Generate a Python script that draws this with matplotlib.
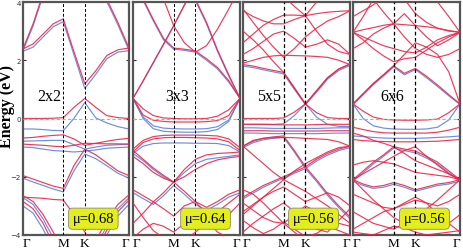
import matplotlib
matplotlib.use("Agg")
import matplotlib.pyplot as plt

# ---------------- data ----------------
# k-path sample points: G, 1/4GM, 1/2GM, 3/4GM, M, 1/2MK, K, 1/4KG, 1/2KG, 3/4KG, G
kpath = [0.0, 0.095, 0.19, 0.285, 0.38, 0.48, 0.583, 0.687, 0.79, 0.895, 1.0]
hs_pos = [0.0, 0.38, 0.583, 1.0]
hs_labels = ['Γ', 'M', 'K', 'Γ']
supercells = ['2x2', '3x3', '5x5', '6x6']
mu_values = ['0.68', '0.64', '0.56', '0.56']
energy_ticks = [-4, -2, 0, 2, 4]

p1_red = [
    [2.39, 2.56, 2.9, 3.25, 3.42, 2.3, 1.19, 1.64, 2.16, 2.36, 2.42],
    [2.4, 3.25, 4.3, 5.5, 6, 6, 6, 5.5, 4.1, 3.3, 2.42],
    [0.0, 0.0, 0.0, 0.01, 0.03, 0.38, 0.69, 0.38, 0.1, 0.03, 0.0],
    [-0.67, -0.65, -0.61, -0.58, -0.56, -0.7, -0.92, -0.85, -0.78, -0.72, -0.68],
    [-0.88, -0.9, -0.92, -0.95, -0.97, -0.92, -0.85, -0.86, -0.87, -0.87, -0.88],
    [-1.96, -2.08, -2.2, -2.32, -2.4, -1.62, -1.05, -1.25, -1.52, -1.8, -1.96],
    [-2.7, -2.72, -2.74, -2.78, -2.8, -3.3, -3.9, -4.5, -5, -5, -5],
    [-2.65, -2.85, -3.3, -3.9, -4.5, -4.5, -4.5, -4.2, -3.5, -2.95, -2.62],
    [-2.85, -3.1, -3.6, -4.3, -4.7, -4.7, -4.7, -4.5, -3.85, -3.2, -2.8],
]
p1_blue = [
    [2.31, 2.45, 2.8, 3.15, 3.32, 2.2, 1.03, 1.52, 2.05, 2.28, 2.33],
    [2.33, 3.18, 4.22, 5.5, 6, 6, 6, 5.5, 4.02, 3.22, 2.34],
    [-0.36, -0.36, -0.38, -0.41, -0.42, 0.0, 0.55, 0.02, -0.15, -0.28, -0.36],
    [-0.78, -0.77, -0.76, -0.75, -0.75, -0.9, -1.05, -0.98, -0.92, -0.9, -0.88],
    [-0.98, -1.0, -1.05, -1.1, -1.12, -1.15, -1.12, -1.08, -1.02, -1.0, -0.98],
    [-2.05, -2.18, -2.3, -2.42, -2.52, -1.8, -1.22, -1.38, -1.62, -1.88, -2.05],
    [-2.72, -2.95, -3.45, -4.1, -4.6, -4.6, -4.6, -4.4, -3.7, -3.1, -2.72],
    [-3.0, -3.25, -3.8, -4.5, -4.8, -4.8, -4.8, -4.7, -4.0, -3.35, -2.95],
]

p2_red = [
    [0.69, 1.3, 1.93, 2.56, 3.19, 3.9, 4.6, 5.5, 6, 6, 6],
    [6, 6, 5.3, 4.1, 3.19, 2.6, 2.28, 2.5, 3.07, 3.76, 4.5],
    [4.6, 4.1, 3.4, 2.75, 2.42, 2.38, 2.32, 2.05, 1.75, 1.3, 0.69],
    [6, 6, 6, 6, 6, 5.0, 4.1, 3.3, 2.35, 1.5, 0.69],
    [0.69, 0.33, 0.1, 0.02, 0.0, -0.01, -0.01, 0.0, 0.08, 0.3, 0.69],
    [0.69, 0.12, -0.06, -0.1, -0.12, -0.12, -0.12, -0.11, -0.07, 0.1, 0.69],
    [-1.05, -0.75, -0.62, -0.58, -0.57, -0.57, -0.57, -0.58, -0.6, -0.7, -1.0],
    [-1.15, -0.82, -0.7, -0.66, -0.65, -0.65, -0.66, -0.67, -0.7, -0.8, -1.1],
    [-1.1, -1.4, -1.7, -1.95, -2.18, -1.75, -1.4, -1.25, -1.2, -1.18, -1.15],
    [-1.3, -1.55, -1.85, -2.05, -2.18, -2.0, -1.75, -1.55, -1.42, -1.35, -1.3],
    [-2.45, -2.65, -2.86, -2.55, -2.18, -2.5, -2.85, -3.05, -2.85, -2.6, -2.45],
    [-3.6, -3.25, -2.86, -3.1, -3.35, -3.0, -2.85, -3.3, -3.7, -3.3, -2.9],
    [-2.9, -3.4, -3.85, -4.1, -4.4, -4.2, -3.9, -3.6, -3.2, -2.9, -2.6],
    [-4.1, -3.8, -3.6, -3.7, -3.9, -3.6, -3.3, -3.5, -3.9, -4.1, -4.0],
]
p2_blue = [
    [0.69, 1.28, 1.9, 2.53, 3.17, 3.88, 4.6, 5.5, 6, 6, 6],
    [4.6, 4.05, 3.35, 2.7, 2.38, 2.34, 2.28, 2.0, 1.7, 1.25, 0.69],
    [6, 6, 6, 6, 6, 5.0, 4.05, 3.25, 2.3, 1.45, 0.69],
    [0.69, 0.05, -0.25, -0.33, -0.35, -0.36, -0.36, -0.35, -0.28, -0.05, 0.69],
    [0.69, 0.0, -0.35, -0.44, -0.46, -0.47, -0.47, -0.45, -0.38, -0.1, 0.69],
    [-1.2, -0.95, -0.86, -0.84, -0.84, -0.84, -0.85, -0.85, -0.86, -0.93, -1.15],
    [-1.2, -1.45, -1.75, -2.0, -2.2, -1.85, -1.55, -1.4, -1.35, -1.3, -1.25],
    [-2.55, -2.75, -2.95, -2.65, -2.3, -2.6, -2.95, -3.15, -2.95, -2.7, -2.55],
]

p3_red = [
    [1.85, 1.8, 1.72, 1.65, 1.58, 1.05, 0.5, 0.95, 1.4, 1.7, 1.87],
    [1.9, 2.0, 2.1, 2.15, 2.17, 2.16, 2.15, 2.13, 2.1, 2.0, 1.85],
    [3.0, 2.7, 2.35, 1.95, 1.58, 1.05, 0.5, 0.95, 1.4, 1.7, 1.87],
    [3.7, 3.5, 3.35, 3.25, 3.25, 3.4, 3.53, 3.6, 3.65, 3.68, 3.7],
    [3.76, 3.3, 2.85, 2.45, 2.1, 2.4, 2.8, 3.1, 3.35, 3.5, 3.7],
    [6, 6, 5.5, 4.8, 4.2, 3.85, 3.53, 3.0, 2.55, 2.3, 2.2],
    [2.6, 2.9, 3.2, 3.4, 3.55, 3.55, 3.53, 4.0, 4.6, 5, 5],
    [2.2, 2.4, 2.65, 2.9, 3.0, 2.75, 2.45, 2.55, 2.7, 2.55, 2.2],
    [0.0, 0.0, 0.0, 0.0, 0.02, 0.22, 0.5, 0.2, 0.03, 0.0, 0.0],
    [-0.2, -0.2, -0.2, -0.21, -0.22, -0.22, -0.22, -0.21, -0.2, -0.2, -0.2],
    [-0.42, -0.42, -0.42, -0.43, -0.43, -0.43, -0.43, -0.43, -0.42, -0.42, -0.42],
    [-0.95, -0.78, -0.68, -0.63, -0.6, -1.1, -1.66, -2.1, -2.58, -3.0, -3.38],
    [-2.7, -2.5, -2.3, -2.15, -2.0, -1.83, -1.66, -1.4, -1.2, -1.05, -0.95],
    [-0.95, -1.25, -1.55, -1.85, -2.1, -2.3, -2.5, -2.75, -3.0, -3.3, -3.6],
    [-3.2, -2.95, -2.7, -2.4, -2.1, -1.8, -1.55, -1.35, -1.15, -1.0, -0.95],
    [-0.95, -0.75, -0.68, -0.66, -0.65, -0.66, -0.68, -0.7, -0.72, -0.8, -0.95],
    [-3.3, -3.0, -2.7, -2.5, -2.35, -2.6, -2.85, -2.7, -2.55, -2.7, -3.0],
    [-2.9, -3.15, -3.4, -3.55, -3.6, -3.3, -3.0, -3.2, -3.45, -3.6, -3.7],
    [-3.9, -3.6, -3.35, -3.1, -2.9, -3.2, -3.5, -3.8, -3.9, -3.5, -3.1],
    [-3.5, -3.75, -3.95, -3.8, -3.55, -3.8, -4.05, -3.95, -3.7, -3.85, -4.0],
    [-2.45, -2.6, -2.9, -3.25, -3.6, -3.9, -4.2, -4.3, -4.3, -4.2, -4.1],
]
p3_blue = [
    [1.8, 1.75, 1.67, 1.6, 1.53, 1.0, 0.48, 0.9, 1.35, 1.65, 1.82],
    [-0.2, -0.2, -0.2, -0.2, -0.18, 0.1, 0.5, 0.05, -0.2, -0.27, -0.28],
    [-0.32, -0.32, -0.33, -0.34, -0.34, -0.34, -0.34, -0.34, -0.33, -0.32, -0.32],
    [-0.5, -0.5, -0.51, -0.52, -0.52, -0.52, -0.52, -0.52, -0.51, -0.5, -0.5],
    [-1.0, -0.83, -0.73, -0.68, -0.65, -1.15, -1.72, -2.16, -2.64, -3.06, -3.44],
    [-2.76, -2.56, -2.36, -2.2, -2.05, -1.88, -1.72, -1.46, -1.26, -1.1, -1.0],
]

p4_red = [
    [0.5, 0.85, 1.2, 1.5, 1.81, 1.55, 1.72, 1.45, 1.15, 0.82, 0.5],
    [0.5, 0.85, 1.2, 1.5, 1.81, 2.2, 2.6, 2.45, 2.2, 1.6, 0.5],
    [2.96, 3.05, 3.12, 3.2, 3.25, 3.22, 3.19, 3.15, 3.1, 3.02, 2.96],
    [2.96, 2.7, 2.4, 2.15, 1.95, 2.05, 2.1, 2.35, 2.6, 2.8, 2.96],
    [2.96, 2.8, 2.65, 2.5, 2.4, 2.3, 2.25, 2.45, 2.7, 2.85, 2.96],
    [5, 4.6, 4.1, 3.65, 3.25, 2.8, 2.4, 2.2, 2.1, 2.2, 2.4],
    [3.5, 3.7, 3.9, 4.2, 4.6, 4.1, 3.6, 3.3, 3.1, 3.0, 2.96],
    [2.96, 3.5, 4.1, 4.6, 5, 5, 5, 4.6, 4.0, 3.5, 2.96],
    [2.4, 2.6, 2.9, 3.1, 3.25, 3.6, 3.19, 2.8, 2.5, 2.7, 2.96],
    [0.5, 0.25, 0.05, -0.03, -0.05, -0.06, -0.06, -0.05, -0.02, 0.2, 0.5],
    [-0.3, -0.38, -0.45, -0.49, -0.5, -0.5, -0.5, -0.5, -0.47, -0.4, -0.3],
    [-0.72, -0.76, -0.78, -0.79, -0.8, -0.8, -0.8, -0.79, -0.78, -0.75, -0.72],
    [-0.5, -0.6, -0.75, -0.85, -0.97, -1.2, -1.45, -1.6, -1.75, -1.9, -2.1],
    [-2.1, -1.8, -1.5, -1.25, -0.97, -1.05, -1.12, -1.3, -1.5, -1.8, -2.1],
    [-2.1, -1.9, -1.7, -1.5, -1.3, -1.1, -0.97, -1.3, -1.6, -1.9, -2.1],
    [-2.1, -2.25, -2.35, -2.3, -2.2, -2.3, -2.45, -2.35, -2.25, -2.2, -2.1],
    [-2.1, -2.45, -2.8, -3.1, -3.4, -3.6, -3.4, -3.1, -2.8, -2.45, -2.1],
    [-1.6, -1.5, -1.45, -1.5, -1.56, -1.7, -1.85, -1.9, -1.95, -2.0, -2.1],
    [-3.8, -3.6, -3.4, -3.2, -3.1, -2.9, -2.7, -2.9, -3.3, -3.6, -3.9],
    [-3.2, -3.4, -3.6, -3.7, -3.8, -3.6, -3.45, -3.6, -3.75, -3.6, -3.3],
    [-2.6, -2.75, -2.9, -3.05, -3.1, -2.95, -2.8, -2.9, -3.0, -2.85, -2.6],
    [-3.9, -3.95, -4.0, -3.85, -3.7, -3.75, -3.9, -4.0, -3.95, -3.9, -3.85],
]
p4_blue = [
    [0.5, 0.0, -0.25, -0.33, -0.36, -0.37, -0.37, -0.36, -0.3, -0.05, 0.5],
    [-0.6, -0.62, -0.65, -0.67, -0.68, -0.68, -0.68, -0.67, -0.65, -0.63, -0.6],
    [0.48, 0.82, 1.16, 1.46, 1.77, 1.5, 1.68, 1.4, 1.1, 0.78, 0.48],
    [-2.15, -1.86, -1.56, -1.3, -1.02, -1.1, -1.18, -1.36, -1.56, -1.86, -2.15],
    [-2.15, -2.3, -2.4, -2.36, -2.26, -2.36, -2.5, -2.4, -2.3, -2.25, -2.15],
]

panels_red = [p1_red, p2_red, p3_red, p4_red]
panels_blue = [p1_blue, p2_blue, p3_blue, p4_blue]

# ---------------- figure ----------------
W, H = 463, 251
fig = plt.figure(figsize=(W / 100, H / 100), dpi=100)
panel_px = [(23, 129), (133, 240), (243, 350), (353, 460)]
top_px, bot_px = 3, 236
label_x = [0.25, 0.41, 0.24, 0.37]
box_x = [0.663, 0.678, 0.659, 0.668]
serif = ['Liberation Serif', 'DejaVu Serif']
red_c = '#ee2448'
blue_c = '#5b82e0'

for i in range(4):
    x0, x1 = panel_px[i]
    ax = fig.add_axes([x0 / W, 1 - bot_px / H, (x1 - x0) / W, (bot_px - top_px) / H])
    for band in panels_blue[i]:
        ax.plot(kpath, band, color=blue_c, lw=0.85, alpha=0.9, zorder=2)
    for band in panels_red[i]:
        ax.plot(kpath, band, color=red_c, lw=0.85, alpha=0.9, zorder=3)
    ax.set_xlim(0, 1)
    ax.set_ylim(-4, 4)
    ax.axhline(0, color='#9bd42a', lw=0.8, dashes=(3, 2), zorder=4)
    dlw = 0.7 if i < 2 else 0.9
    for xp in hs_pos[1:3]:
        ax.axvline(xp, color='black', lw=dlw, dashes=(3, 2), zorder=4)
    for s in ax.spines.values():
        s.set_linewidth(1.6)
        s.set_color('#555555')
    ax.set_yticks(energy_ticks)
    ax.tick_params(axis='y', direction='in', length=2.5, width=0.8, left=True, right=True,
                   labelsize=5, pad=1.5, colors='#333333')
    if i > 0:
        ax.set_yticklabels([])
    ax.set_xticks(hs_pos)
    ax.set_xticklabels(hs_labels, fontfamily=serif, fontsize=9.5)
    xl = ax.get_xticklabels()
    xl[0].set_ha('left')
    xl[-1].set_ha('right')
    ax.tick_params(axis='x', length=0, pad=1.5)
    ax.text(label_x[i], 0.77, supercells[i], transform=ax.get_yaxis_transform(),
            ha='center', va='center', fontsize=11.5, fontfamily=serif, zorder=6)
    ax.text(box_x[i], -3.44, 'μ=' + mu_values[i], transform=ax.get_yaxis_transform(),
            ha='center', va='center', fontsize=10.5, fontfamily=serif, zorder=7,
            bbox=dict(boxstyle='round,pad=0.28', facecolor='#e4ee1c', edgecolor='#8a8a60', lw=0.6))

fig.text(7 / W, 1 - 107 / H, 'Energy (eV)', rotation=90, ha='center', va='center',
         fontsize=11.5, fontweight='bold', fontfamily=serif)

fig.savefig('out.png', dpi=100)
